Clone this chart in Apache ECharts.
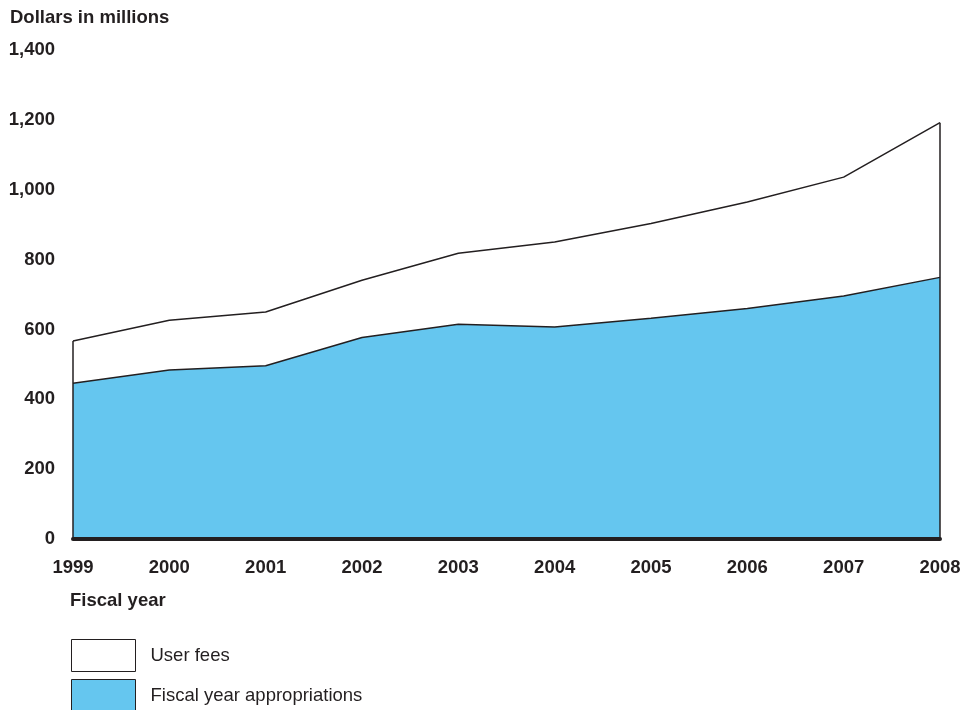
<!DOCTYPE html>
<html>
<head>
<meta charset="utf-8">
<script src="https://cdn.jsdelivr.net/npm/echarts@6/dist/echarts.min.js"></script>
<style>
  html, body { margin: 0; padding: 0; background: #ffffff; }
  #chart { width: 978px; height: 710px; }
</style>
</head>
<body>
<div id="chart"></div>
<script>
// Fiscal years on the horizontal axis
const years = ['1999', '2000', '2001', '2002', '2003', '2004', '2005', '2006', '2007', '2008'];
// Fiscal year appropriations, dollars in millions
const appropriations = [446, 484, 496, 577, 615, 607, 632, 660, 696, 749];
// User fees, dollars in millions (stacked on top of appropriations)
const userFees = [121, 142, 154, 164, 203, 243, 271, 305, 340, 443];
// Value axis tick range
const yTicks = { min: 0, max: 1400, step: 200 };

const totals = years.map((_, i) => appropriations[i] + userFees[i]);
const first = years[0];
const last = years[years.length - 1];

const FONT = 'Liberation Sans, Arial, Helvetica, sans-serif';
const INK = '#231f20';
const BLUE = '#65c6ef';

const chart = echarts.init(document.getElementById('chart'), null, { renderer: 'canvas' });

chart.setOption({
  backgroundColor: '#ffffff',
  animation: false,
  title: {
    text: 'Dollars in millions',
    left: 5,
    top: 3,
    textStyle: { fontFamily: FONT, fontSize: 18.5, fontWeight: 'bold', color: INK }
  },
  grid: { left: 73, right: 38, top: 50, bottom: 171, containLabel: false },
  xAxis: {
    type: 'category',
    data: years,
    boundaryGap: false,
    name: 'Fiscal year',
    nameLocation: 'start',
    nameGap: 0,
    nameTextStyle: {
      fontFamily: FONT, fontSize: 18.5, fontWeight: 'bold', color: INK,
      align: 'left', verticalAlign: 'top', padding: [52, 0, 0, -3]
    },
    axisLine: { show: true, lineStyle: { color: INK, width: 4 } },
    axisTick: { show: false },
    axisLabel: {
      margin: 19,
      fontFamily: FONT, fontSize: 18.5, fontWeight: 'bold', color: INK
    },
    splitLine: { show: false },
    z: 10
  },
  yAxis: {
    type: 'value',
    min: yTicks.min,
    max: yTicks.max,
    interval: yTicks.step,
    axisLine: { show: false },
    axisTick: { show: false },
    splitLine: { show: false },
    axisLabel: {
      margin: 18,
      fontFamily: FONT, fontSize: 18.5, fontWeight: 'bold', color: INK,
      formatter: v => v.toLocaleString('en-US')
    }
  },
  legend: {
    orient: 'vertical',
    left: 71,
    top: 639,
    height: 140,
    padding: 0,
    itemWidth: 64,
    itemHeight: 32,
    itemGap: 7,
    icon: 'rect',
    selectedMode: false,
    textStyle: { fontFamily: FONT, fontSize: 18.5, color: INK, padding: [6, 0, 0, 10] },
    data: [
      { name: 'User fees', itemStyle: { color: '#ffffff', borderColor: INK, borderWidth: 1 } },
      { name: 'Fiscal year appropriations', itemStyle: { color: BLUE, borderColor: INK, borderWidth: 1 } }
    ]
  },
  series: [
    {
      name: 'Fiscal year appropriations',
      type: 'line',
      stack: 'total',
      data: appropriations,
      symbol: 'none',
      lineStyle: { color: INK, width: 1.5 },
      itemStyle: { color: BLUE },
      areaStyle: { color: BLUE, opacity: 1 },
      z: 3
    },
    {
      name: 'User fees',
      type: 'line',
      stack: 'total',
      data: userFees,
      symbol: 'none',
      lineStyle: { color: INK, width: 1.5 },
      itemStyle: { color: '#ffffff' },
      areaStyle: { color: '#ffffff', opacity: 1 },
      z: 2,
      // vertical edges closing the stacked area at the first and last year
      markLine: {
        silent: true,
        symbol: 'none',
        label: { show: false },
        lineStyle: { color: INK, width: 1.5, type: 'solid' },
        data: [
          [{ coord: [first, 0] }, { coord: [first, totals[0]] }],
          [{ coord: [last, 0] }, { coord: [last, totals[totals.length - 1]] }]
        ]
      }
    }
  ]
});
</script>
</body>
</html>
